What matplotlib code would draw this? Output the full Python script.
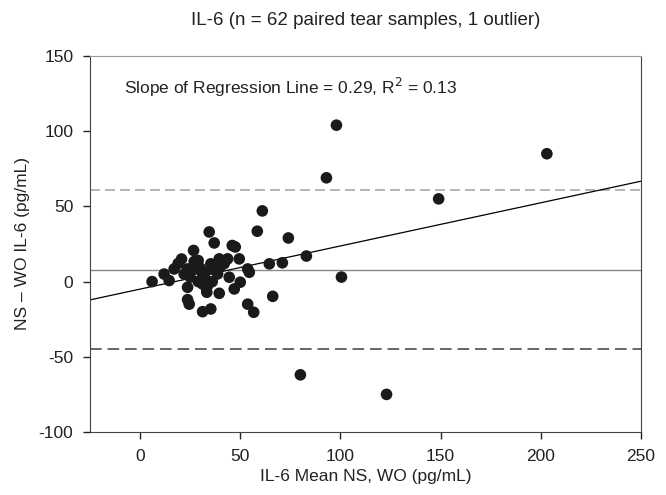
import numpy as np
import matplotlib.pyplot as plt

plt.rcParams['font.family'] = ['Liberation Sans', 'DejaVu Sans']
plt.rcParams['axes.unicode_minus'] = False

# mean of NS and WO (pg/mL)
mean_ns_wo = [98, 93, 203, 149, 74, 71, 83, 100.5, 80, 123,
              61, 58.5, 34.5, 37, 46, 47.5, 26.7, 20.7, 27, 17,
              12, 6, 14.5, 23.7, 27.8, 32, 35.3, 31.2, 23.7, 33.3,
              23.7, 24.5, 31.2, 35.3, 39.5, 43.7, 49.5, 35.3, 38.7, 53.7,
              54.5, 64.5, 44.5, 50, 47, 39.5, 66.2, 53.7, 56.7, 33.7,
              22, 30, 29, 33, 40, 42, 29, 19, 31, 36, 25]
# difference NS - WO (pg/mL)
diff_ns_wo = [104, 69, 85, 55, 29, 12.5, 17, 3, -62, -75,
              47, 33.5, 33, 25.7, 24, 23, 20.7, 15, 13.3, 8.4,
              5, 0, 0.7, 8.4, 8.4, 4, 11.8, -1.6, -3.8, -7.1,
              -12, -15, -20, -18.2, 15.1, 15.1, 15.1, 8.4, 5.1, 8.4,
              6.2, 11.8, 2.9, -0.4, -4.9, -7.8, -9.8, -15, -20.4, -2.7,
              5, 9, 14, -4, 10, 12, 0, 12, 6, 0, 3]

mean_diff = 8
upper_loa = 61
lower_loa = -45
slope = 0.287
intercept = -5.0

fig = plt.figure(figsize=(6.66, 4.95), dpi=100)
ax = fig.add_axes([0.1351, 0.1273, 0.8274, 0.7596])

# limits of agreement and mean difference
ax.axhline(upper_loa, color='#a8a8a8', linestyle=(0, (6, 3)), linewidth=1.2)
ax.axhline(lower_loa, color='#666666', linestyle=(0, (6, 3)), linewidth=1.4)
ax.axhline(mean_diff, color='#8a8a8a', linewidth=1.0)

# regression line
xl = np.array([-25, 250])
ax.plot(xl, intercept + slope * xl, color='black', linewidth=0.9)

ax.scatter(mean_ns_wo, diff_ns_wo, s=70, color='#1a1a1a', edgecolors='none', zorder=3)

ax.set_xlim(-25, 250)
ax.set_ylim(-100, 150)
ax.set_xticks(np.arange(0, 251, 50))
ax.set_yticks(np.arange(-100, 151, 50))
ax.tick_params(direction='out', length=5, width=1, labelsize=12.5, colors='#222222', pad=7)
for side in ['left', 'bottom', 'right']:
    ax.spines[side].set_color('#444444')
ax.spines['top'].set_color('#999999')

ax.text(0.062, 0.917, 'Slope of Regression Line = 0.29, R$^2$ = 0.13',
        transform=ax.transAxes, fontsize=12.5, va='center', ha='left', color='#222222')

ax.set_xlabel('IL-6 Mean NS, WO (pg/mL)', fontsize=12.5, color='#222222', labelpad=4)
ax.set_ylabel('NS \u2013 WO IL-6 (pg/mL)', fontsize=12.5, color='#222222', labelpad=6)
ax.set_title('IL-6 (n = 62 paired tear samples, 1 outlier)', fontsize=13.5, color='#222222', pad=22)

plt.savefig('out.png', dpi=100)
